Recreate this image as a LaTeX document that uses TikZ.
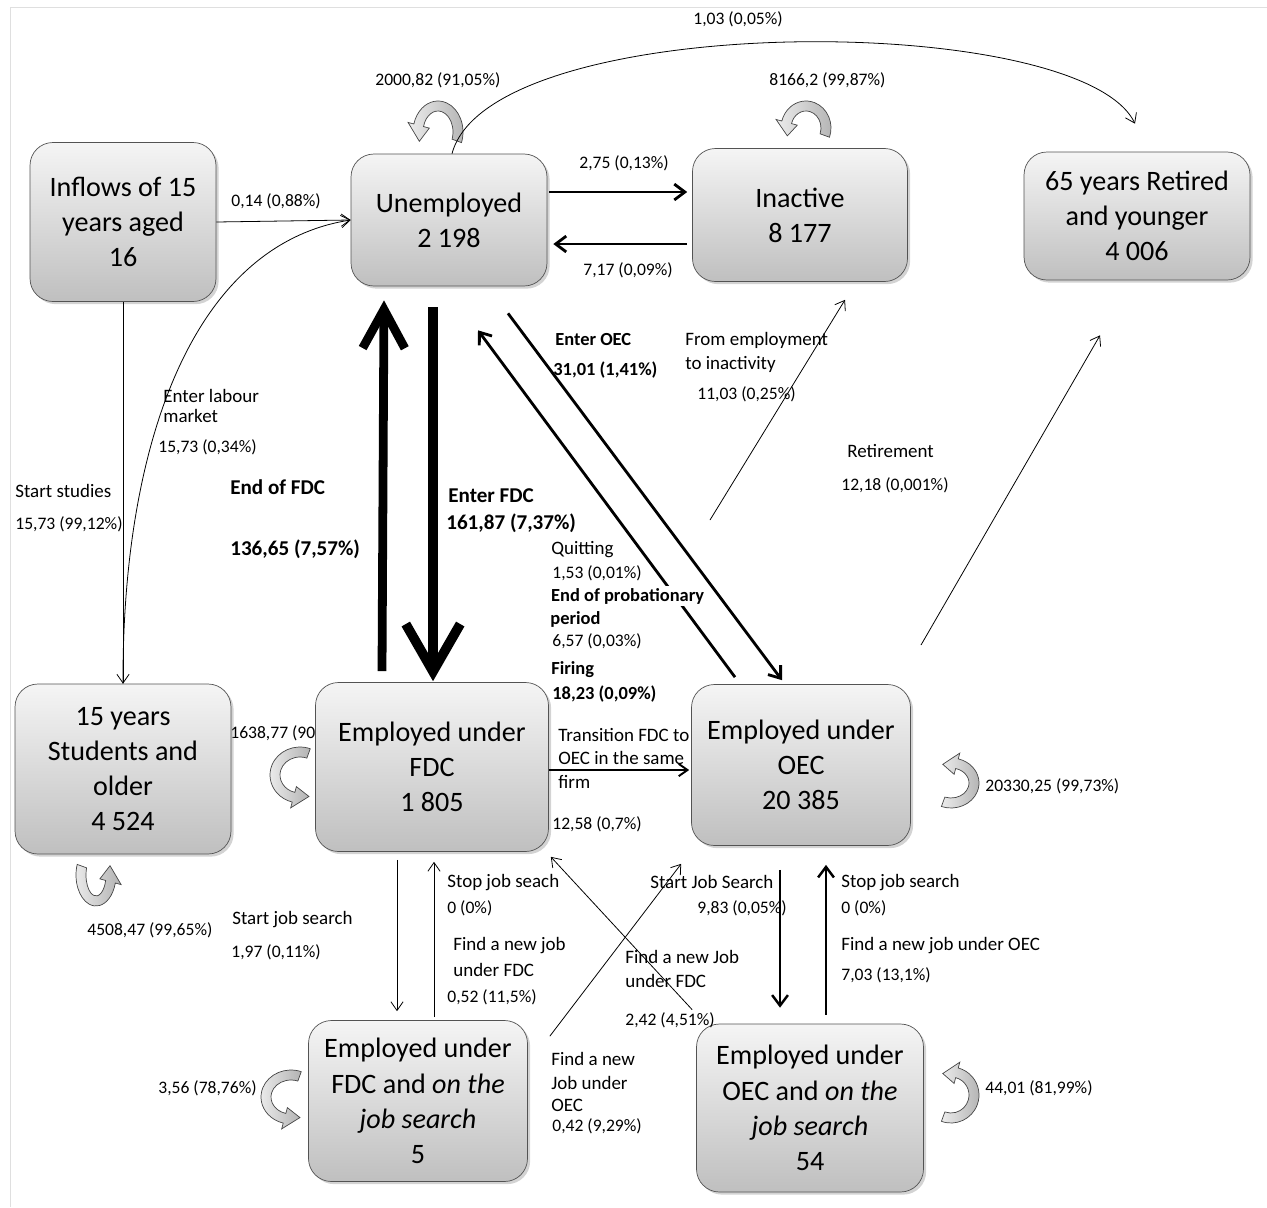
\documentclass[tikz,border=0pt]{standalone}
\usepackage{fontspec}
\setmainfont{Carlito}
\usetikzlibrary{arrows.meta,shadows,calc}

\tikzset{
  state/.style={rectangle, rounded corners=13pt, draw=gray!65!black,
    top color=gray!8, bottom color=gray!50,
    drop shadow={opacity=0.35, shadow xshift=1.5pt, shadow yshift=-1.5pt},
    align=center, inner sep=2pt, font=\fontsize{16}{20}\selectfont},
  lab/.style={anchor=west, inner sep=0pt, font=\fontsize{10.8}{12}\selectfont},
  nlab/.style={anchor=west, inner sep=0pt, font=\fontsize{10}{12}\selectfont},
  blab/.style={anchor=west, inner sep=0pt, font=\fontsize{10.5}{12}\selectfont\bfseries},
  biglab/.style={anchor=west, inner sep=0pt, font=\fontsize{12}{14}\selectfont\bfseries},
  thinarr/.style={-{Straight Barb[length=5pt,width=7pt]}, line width=0.45pt},
  transarr/.style={-{Straight Barb[length=5pt,width=7pt]}, line width=1.1pt},
  medarr/.style={-{Straight Barb[length=6pt,width=9pt]}, line width=1.6pt},
  bigarr/.style={-{Straight Barb[length=22pt,width=24pt]}, line width=5pt},
  loopband/.style={left color=gray!15, right color=gray!60, draw=gray!55!black, line width=0.4pt}
}

% curved block arrow: centre, rotation, x radius, y radius
\newcommand{\blockloop}[4]{%
  \begin{scope}[shift={#1}, rotate=#2, x=0.02cm, y=0.02cm]
    \path[loopband] (-20:#3 and #4) arc[start angle=-20, end angle=165, x radius=#3, y radius=#4]
      -- (165:#3+6 and #4+6) -- (201:#3-5 and #4-5) -- (165:#3-16 and #4-16)
      -- (165:#3-10 and #4-10) arc[start angle=165, end angle=-20, x radius=#3-10, y radius=#4-10]
      -- cycle;
  \end{scope}}

\begin{document}
\begin{tikzpicture}[x=0.02cm,y=-0.02cm]
  \useasboundingbox (0,0) rectangle (1267,1207);
  \draw[gray!25] (10,1207) -- (10,7) -- (1267,7);

  % label partly hidden by the FDC box
  \node[nlab] (lfdcself) at (230,733) {1638,77 (90};

  % states
  \node[state, minimum width=3.72cm, minimum height=3.18cm] (inflow) at (123,222) {Inflows of 15\\ years aged\\ 16};
  \node[state, minimum width=3.92cm, minimum height=2.64cm] (unemp) at (449,220) {Unemployed\\ 2 198};
  \node[state, minimum width=4.3cm, minimum height=2.66cm] (inact) at (800,215) {Inactive\\ 8 177};
  \node[state, minimum width=4.52cm, minimum height=2.56cm] (retired) at (1137,216) {65 years Retired\\ and younger\\ 4 006};
  \node[state, minimum width=4.32cm, minimum height=3.4cm] (students) at (123,769) {15 years\\ Students and\\ older\\ 4 524};
  \node[state, minimum width=4.66cm, minimum height=3.38cm] (fdc) at (432,767) {Employed under\\ FDC\\ 1 805};
  \node[state, minimum width=4.38cm, minimum height=3.22cm] (oec) at (801,765) {Employed under\\ OEC\\ 20 385};
  \node[state, minimum width=4.38cm, minimum height=3.22cm] (fdcs) at (418,1101) {Employed under\\ FDC and \textit{on the}\\ \textit{job search}\\ 5};
  \node[state, minimum width=4.54cm, minimum height=3.36cm] (oecs) at (810,1108) {Employed under\\ OEC and \textit{on the}\\ \textit{job search}\\ 54};

  % staying in the same state
  \blockloop{(438,132)}{0}{25}{31}
  \blockloop{(806,128)}{0}{25}{27}
  \blockloop{(300,775)}{90}{28}{30}
  \blockloop{(291,1097)}{90}{27}{30}
  \blockloop{(96,875)}{180}{20}{31}
  \blockloop{(951,783)}{-90}{25}{28}
  \blockloop{(951,1095)}{-90}{28}{28}

  % flows
  \draw[thinarr] (inflow.east) -- (unemp.west);
  \draw[medarr] ($(unemp.east)+(2,-28)$) -- ($(inact.west)+(-5,-23)$);
  \draw[medarr] ($(inact.west)+(-5,29)$) -- ($(unemp.east)+(6,24)$);
  \draw[thinarr] ($(unemp.north)+(3,0)$) .. controls (490,10) and (1080,10) .. ($(retired.north)+(-2,-28)$);
  \draw[thinarr] (inflow.south) -- (students.north);
  \draw[thinarr] (students.north) .. controls (122,450) and (190,245) .. (unemp.west);
  \draw[bigarr] ($(fdc.north)+(-50,-11)$) -- ($(unemp.south)+(-65,14)$);
  \draw[bigarr, line width=5.5pt, -{Straight Barb[length=27pt,width=31pt]}] ($(unemp.south)+(-16,21)$) -- ($(fdc.north)+(1,-1)$);
  \draw[medarr] ($(unemp.south)+(59,27)$) -- ($(oec.north)+(-19,-4)$);
  \draw[medarr] ($(oec.north)+(-66,-7)$) -- ($(unemp.south)+(29,44)$);
  \coordinate (empout) at (710,520);
  \coordinate (retout) at (921,645);
  \draw[thinarr] (empout) -- ($(inact.south)+(45,18)$);
  \draw[thinarr] (retout) -- ($(retired.south)+(-37,55)$);
  \draw[transarr] ($(fdc.east)+(0,3)$) -- ($(oec.west)+(-2,5)$);
  \draw[thinarr] ($(fdc.south)+(-35,8)$) -- ($(fdcs.north)+(-21,-9)$);
  \draw[thinarr] ($(fdcs.north)+(16,-3)$) -- ($(fdc.south)+(2,10)$);
  \draw[thinarr] ($(fdcs.north east)+(22,16)$) -- ($(oec.south west)+(-10,18)$);
  \draw[thinarr] ($(oecs.north west)+(-4,-14)$) -- ($(fdc.south east)+(2,5)$);
  \draw[medarr, line width=1.4pt] ($(oec.south)+(-21,24)$) -- ($(oecs.north)+(-30,-16)$);
  \draw[medarr, line width=1.4pt] ($(oecs.north)+(16,-9)$) -- ($(oec.south)+(25,19)$);

  % labels
  \node[nlab] (lret1) at (693,19) {1,03 (0,05\%)};
  \node[nlab] (lunself) at (375,80) {2000,82 (91,05\%)};
  \node[nlab] (linself) at (769,80) {8166,2 (99,87\%)};
  \node[nlab] (linflow) at (231,201) {0,14 (0,88\%)};
  \node[nlab] (lunin) at (579,163) {2,75 (0,13\%)};
  \node[nlab] (linun) at (583,270) {7,17 (0,09\%)};
  \node[blab] (loec1) at (555,340) {Enter OEC};
  \node[blab] (loec2) at (553,370) {31,01 (1,41\%)};
  \node[lab] (linact1) at (685,340) {From employment};
  \node[lab] (linact2) at (685,364) {to inactivity};
  \node[nlab] (linact3) at (697,394) {11,03 (0,25\%)};
  \node[lab] (llab1) at (163,396) {Enter labour};
  \node[lab] (llab2) at (163,416) {market};
  \node[nlab] (llab3) at (158,447) {15,73 (0,34\%)};
  \node[lab] (lstud1) at (15,491) {Start studies};
  \node[nlab] (lstud2) at (15,524) {15,73 (99,12\%)};
  \node[biglab] (lendfdc1) at (230,487) {End of FDC};
  \node[biglab] (lendfdc2) at (230,549) {136,65 (7,57\%)};
  \node[biglab] (lentfdc1) at (448,496) {Enter FDC};
  \node[biglab] (lentfdc2) at (446,523) {161,87 (7,37\%)};
  \node[lab] (lretire1) at (847,451) {Retirement};
  \node[nlab] (lretire2) at (841,485) {12,18 (0,001\%)};
  \node[lab] (lquit1) at (551,550) {Quitting};
  \node[nlab] (lquit2) at (552,573) {1,53 (0,01\%)};
  \node[blab, fill=white, inner sep=1pt] (lprob1) at (549,596) {End of probationary};
  \node[blab] (lprob2) at (550,619) {period};
  \node[nlab] (lprob3) at (552,641) {6,57 (0,03\%)};
  \node[blab] (lfire1) at (551,670) {Firing};
  \node[blab] (lfire2) at (552,694) {18,23 (0,09\%)};
  \node[lab] (ltrans1) at (558,735) {Transition FDC to};
  \node[lab] (ltrans2) at (558,758) {OEC in the same};
  \node[lab] (ltrans3) at (558,782) {firm};
  \node[nlab] (ltrans4) at (552,824) {12,58 (0,7\%)};
  \node[nlab] (loecself) at (985,786) {20330,25 (99,73\%)};
  \node[nlab] (lstudself) at (87,930) {4508,47 (99,65\%)};
  \node[lab] (lsearch1) at (232,920) {Start job search};
  \node[nlab] (lsearch2) at (231,952) {1,97 (0,11\%)};
  \node[lab] (lstop1) at (447,883) {Stop job seach};
  \node[nlab] (lstop2) at (447,908) {0 (0\%)};
  \node[lab] (lnewfdc1) at (453,946) {Find a new job};
  \node[lab] (lnewfdc2) at (453,970) {under FDC};
  \node[nlab] (lnewfdc3) at (447,997) {0,52 (11,5\%)};
  \node[lab] (losearch1) at (650,882) {Start Job Search};
  \node[nlab] (losearch2) at (697,908) {9,83 (0,05\%)};
  \node[lab] (lostop1) at (841,883) {Stop job search};
  \node[nlab] (lostop2) at (841,908) {0 (0\%)};
  \node[lab] (lnewoec1) at (841,946) {Find a new job under OEC};
  \node[nlab] (lnewoec2) at (841,975) {7,03 (13,1\%)};
  \node[lab] (lcross1) at (625,957) {Find a new Job};
  \node[lab] (lcross2) at (625,981) {under FDC};
  \node[nlab] (lcross3) at (625,1020) {2,42 (4,51\%)};
  \node[nlab] (lfdcsself) at (158,1088) {3,56 (78,76\%)};
  \node[lab] (lcrossb1) at (551,1059) {Find a new};
  \node[lab] (lcrossb2) at (551,1083) {Job under};
  \node[lab] (lcrossb3) at (551,1105) {OEC};
  \node[nlab] (lcrossb4) at (552,1126) {0,42 (9,29\%)};
  \node[nlab] (loecsself) at (985,1088) {44,01 (81,99\%)};
\end{tikzpicture}
\end{document}
